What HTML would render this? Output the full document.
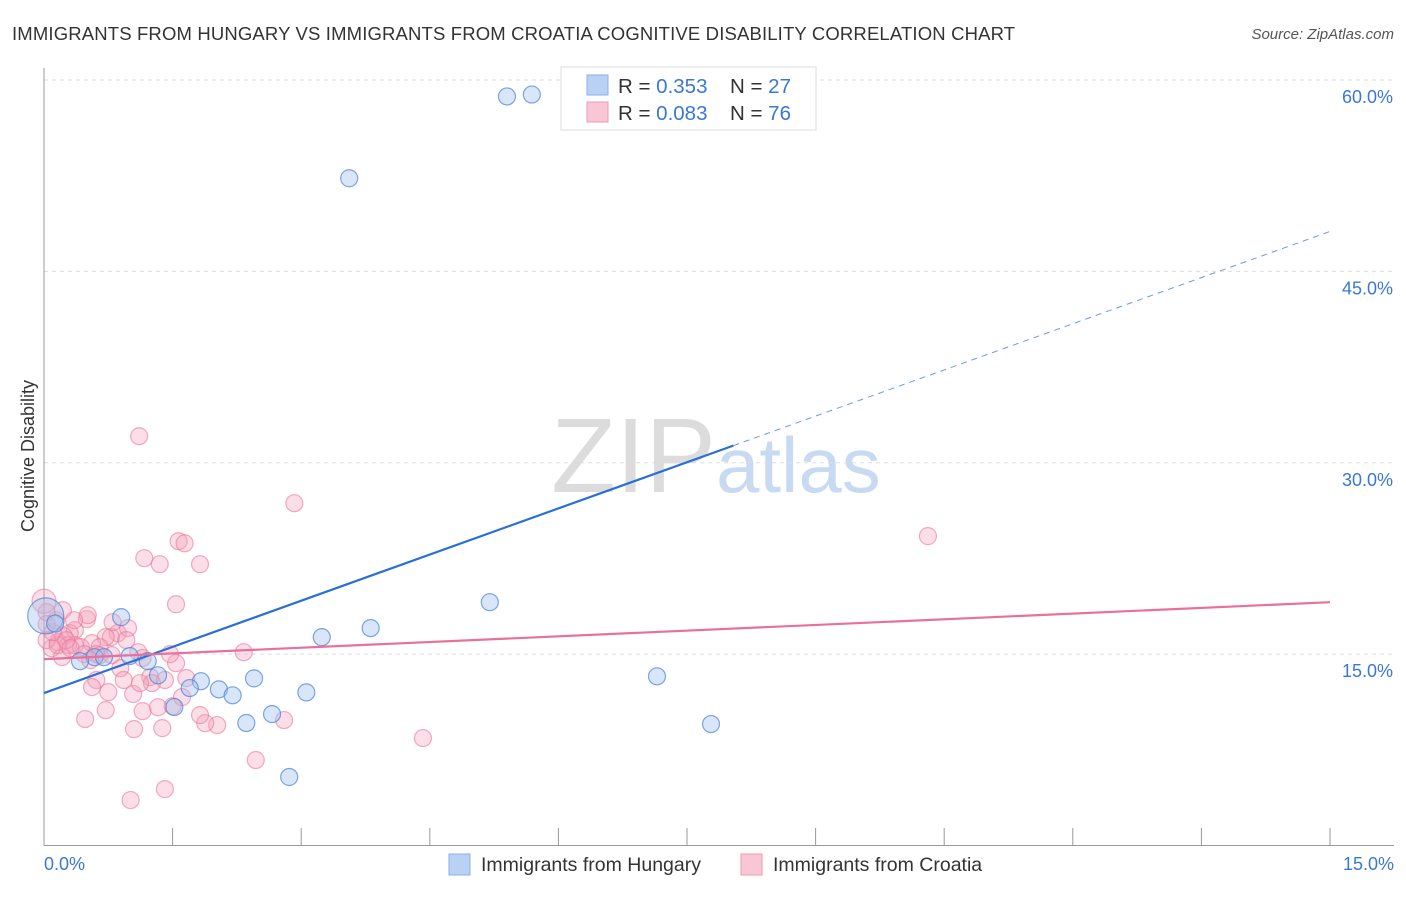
<!DOCTYPE html>
<html><head><meta charset="utf-8"><style>
body{margin:0;background:#fff;font-family:"Liberation Sans",sans-serif;}
svg text{font-family:"Liberation Sans",sans-serif;}
</style></head><body>
<svg id="chart" width="1406" height="892" viewBox="0 0 1406 892">
<text x="12" y="40" font-size="18.5" fill="#333" letter-spacing="0.15">IMMIGRANTS FROM HUNGARY VS IMMIGRANTS FROM CROATIA COGNITIVE DISABILITY CORRELATION CHART</text>
<text x="1394" y="39" font-size="15" fill="#555" font-style="italic" text-anchor="end">Source: ZipAtlas.com</text>
<text x="716" y="492" font-size="106" fill="#dcdcdc" text-anchor="end" font-family="Liberation Serif">ZIP</text>
<text x="716" y="492" font-size="78" fill="#c8daf2">atlas</text>
<text transform="translate(34,456) rotate(-90)" font-size="18" fill="#333" text-anchor="middle">Cognitive Disability</text>
<g id="grid"></g><g id="marks"></g>
<g>
<rect x="561" y="67" width="255" height="63" fill="#fff" stroke="#ddd"/>
<rect x="587" y="75" width="21" height="20" fill="#b8d1f5" stroke="#8ab0e6"/>
<rect x="587" y="102" width="21" height="20" fill="#f9c6d5" stroke="#ee9ab5"/>
<text x="618" y="93" font-size="20.5" fill="#333">R = <tspan fill="#3a78d4">0.353</tspan></text>
<text x="730" y="93" font-size="20.5" fill="#333">N = <tspan fill="#3a78d4">27</tspan></text>
<text x="618" y="120" font-size="20.5" fill="#333">R = <tspan fill="#3a78d4">0.083</tspan></text>
<text x="730" y="120" font-size="20.5" fill="#333">N = <tspan fill="#3a78d4">76</tspan></text>
</g>
<g>
<rect x="449" y="854" width="21" height="21" fill="#b8d1f5" stroke="#8ab0e6"/>
<text x="481" y="871" font-size="19.5" fill="#333">Immigrants from Hungary</text></g>
<g>
<rect x="741" y="854" width="21" height="21" fill="#f9c6d5" stroke="#ee9ab5"/>
<text x="773" y="871" font-size="19.5" fill="#333">Immigrants from Croatia</text></g>
</svg>
<script>
const yTicks=[15,30,45,60];
const yTickLabels=["15.0%","30.0%","45.0%","60.0%"];
const xTickVals=[0,1.5,3,4.5,6,7.5,9,10.5,12,13.5,15];
const xEndLabels=["0.0%","15.0%"];
const hungaryX=[5.40,5.69,3.56,5.20,3.81,3.24,0.90,7.15,7.78,2.45,3.06,2.04,2.20,1.83,1.70,2.36,2.66,2.86,1.52,1.33,1.21,1.00,0.59,0.42,0.70,0.02,0.13];
const hungaryY=[58.71,58.86,52.30,19.07,17.04,16.33,17.90,13.26,9.52,13.10,12.00,12.24,11.77,12.88,12.34,9.60,10.30,5.37,10.85,13.34,14.45,14.85,14.76,14.45,14.76,18.0,17.4];
const croatiaX=[1.11,2.92,10.31,1.57,1.64,1.17,1.35,1.82,1.54,2.33,4.42,2.47,2.80,1.01,1.41,1.05,1.38,2.02,1.88,1.82,1.50,1.15,1.33,1.61,1.66,1.54,1.24,1.26,0.89,1.04,0.75,0.72,0.48,0.61,0.56,0.86,0.98,0.78,0.80,0.50,0.51,0.72,0.36,0.30,0.23,0.16,0.28,0.43,0.56,0.65,0.65,0.21,0.09,0.03,0.03,0.03,0.0,0.16,0.36,0.47,0.96,1.10,1.15,1.47,0.93,0.79,0.26,0.31,0.61,0.10,0.14,0.22,0.35,0.54,1.12,1.41];
const croatiaY=[32.08,26.83,24.25,23.85,23.69,22.52,22.05,22.05,18.91,15.15,8.42,6.70,9.83,3.56,4.42,9.12,9.20,9.44,9.59,10.22,10.92,10.53,10.84,11.63,13.12,14.29,13.20,12.73,13.90,11.87,12.02,10.61,9.91,12.97,12.42,16.64,17.04,16.33,17.50,17.74,18.05,16.33,16.88,16.64,16.41,15.94,15.71,15.55,15.86,15.55,14.92,14.77,15.47,16.10,18.29,17.35,19.15,15.71,15.71,15.00,16.10,15.15,14.69,15.00,12.97,14.92,16.10,15.47,15.00,16.72,17.66,18.44,17.66,14.53,12.73,12.97];
const hungaryTrend=[11.95,48.13];
const hungarySolidEnd=8.04;
const croatiaTrend=[14.61,19.07];

const X=v=>44+v/15*1286;
const Y=v=>845.5-v/60*765.5;
const NS="http://www.w3.org/2000/svg";
const grid=document.getElementById('grid'), marks=document.getElementById('marks');
function mk(p,tag,a){const e=document.createElementNS(NS,tag);for(const k in a)e.setAttribute(k,a[k]);p.appendChild(e);return e;}
yTicks.forEach((t,i)=>{
 const l=mk(grid,'line',{x1:44,x2:1394,y1:Y(t),y2:Y(t),stroke:'#ddd','stroke-dasharray':'4,4'});
 
 
 const tx=mk(grid,'text',{x:1393,y:Y(t)+23,'font-size':18,fill:'#3a78d4','text-anchor':'end'});
 tx.textContent=yTickLabels[i];
 
 
});
const ax=mk(grid,'line',{x1:44,x2:1394,y1:845.5,y2:845.5,stroke:'#999'});


const ay=mk(grid,'line',{x1:44,x2:44,y1:68,y2:845.5,stroke:'#999'});


xTickVals.forEach(v=>{const t=mk(grid,'line',{x1:X(v),x2:X(v),y1:828,y2:845.5,stroke:'#999'});
 
 });
const xl0=mk(grid,'text',{x:44,y:870,'font-size':18,fill:'#3a78d4'});xl0.textContent=xEndLabels[0];


const xl1=mk(grid,'text',{x:1394,y:870,'font-size':18,fill:'#3a78d4','text-anchor':'end'});xl1.textContent=xEndLabels[1];



croatiaX.forEach((x,i)=>{const r=(x===0)?12:8.5;
 const c=mk(marks,'circle',{cx:X(x),cy:Y(croatiaY[i]),r:r,fill:'rgba(244,160,186,0.35)',stroke:'rgba(232,120,155,0.6)','stroke-width':1.2});
 
 });
hungaryX.forEach((x,i)=>{const r=(i===25)?18:8.5;
 const c=mk(marks,'circle',{cx:X(x),cy:Y(hungaryY[i]),r:r,fill:'rgba(160,192,240,0.4)',stroke:'rgba(70,130,215,0.7)','stroke-width':1.2});
 
 });
const hy=v=>hungaryTrend[0]+(hungaryTrend[1]-hungaryTrend[0])*v/15;
const hl=mk(marks,'line',{x1:X(0),y1:Y(hy(0)),x2:X(hungarySolidEnd),y2:Y(hy(hungarySolidEnd)),stroke:'#2a6fd6','stroke-width':2.2});


const hd=mk(marks,'line',{x1:X(hungarySolidEnd),y1:Y(hy(hungarySolidEnd)),x2:X(15),y2:Y(hy(15)),stroke:'#6b9be0','stroke-width':1,'stroke-dasharray':'6,5'});


const cl=mk(marks,'line',{x1:X(0),y1:Y(croatiaTrend[0]),x2:X(15),y2:Y(croatiaTrend[1]),stroke:'#e8709a','stroke-width':2.2});


</script>
</body></html>
